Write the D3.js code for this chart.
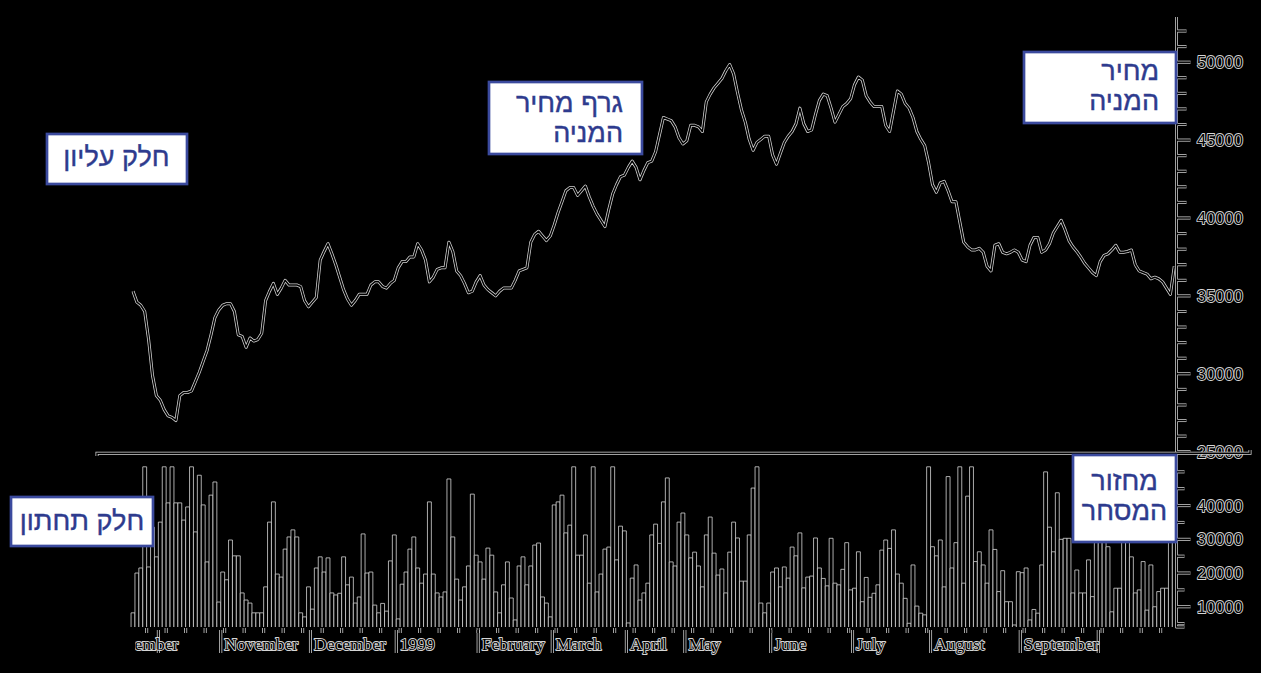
<!DOCTYPE html>
<html><head><meta charset="utf-8">
<script src="https://cdn.jsdelivr.net/npm/d3@7"></script>
<style>
html,body{margin:0;padding:0;background:#000;}
svg{display:block;}
</style></head><body>
<svg id="c" width="1261" height="673"></svg>
<script>
// ---- data (daily share price, daily trading volume) ----
const price = [35300,34600,34400,34000,32200,29900,28600,28300,27700,27300,
27200,27000,28600,28800,28800,28900,29500,30100,30800,31500,
32500,33600,34100,34400,34500,34500,34000,32500,32400,31700,
32300,32100,32200,32600,34700,35300,35800,35100,35500,36000,
35700,35700,35700,35600,34700,34300,34600,34900,37300,37850,
38350,37700,37000,36200,35400,34800,34400,34700,35100,35100,
35100,35700,35900,35900,35600,35500,35800,36000,36800,37200,
37200,37500,37500,38350,37950,37300,35900,36200,36700,36800,
36800,38450,37850,36600,36300,35800,35200,35300,35900,36300,
35700,35400,35200,35000,35300,35500,35500,35500,36000,36600,
36700,36800,38450,38950,39150,38850,38550,38850,39550,40350,
41050,41750,41950,41950,41450,41750,42050,41350,40750,40250,
39850,39450,40550,41550,42150,42650,42750,43250,43650,43250,
42450,43050,43550,43650,44250,45350,46450,46350,46250,45850,
45150,44750,44950,45950,45950,45850,45550,47450,47950,48350,
48650,48950,49450,49850,49250,48050,46950,46150,45050,44350,
44850,45050,45250,45250,44050,43450,44150,44850,45250,45550,
46050,47050,46050,45550,45650,46650,47550,47950,47850,47050,
46150,46650,47150,47350,47650,48550,49050,48850,47850,47450,
47150,47150,47150,45950,45550,46850,48150,47950,47350,47050,
46450,45550,45050,44650,43550,42150,41650,42250,42350,41750,
41050,41050,39750,38450,38150,37950,37950,38050,37800,36900,
36600,38250,38350,37800,37700,37800,37950,37800,37300,37200,
38250,38750,38750,37800,37950,38350,39050,39450,39850,39250,
38550,38150,37850,37500,37100,36800,36500,36300,37200,37600,
37700,37950,38250,37800,37800,37850,37950,37000,36600,36500,
36400,36100,36200,36100,35900,35500,35100,36900];

const volume = [8200,20000,21500,51500,21800,33600,24800,35100,51500,40800,
51500,40800,40800,35700,39600,51500,32200,49000,40200,23300,
43100,47000,11400,20300,18000,29800,25100,25100,14100,12000,
11100,8200,8200,8200,15900,35100,41100,19700,18800,27100,
30700,32800,30700,8200,7000,15900,9300,21500,24800,20300,
24500,14100,13500,14000,24800,16500,18800,11100,12900,31600,
20000,20300,10500,8200,11000,8700,23600,31300,6400,16700,
20300,27100,30700,21500,17000,19700,41100,19700,14100,12900,
14400,47900,30700,18200,12000,15900,22100,43400,25300,23300,
18200,27400,25300,14400,8200,16500,23300,12600,6100,22100,
24800,16500,22100,28300,28900,12900,11100,7000,40200,41100,
43100,31900,34200,51500,25300,25300,31300,17000,51500,14400,
19700,27100,27700,51500,23900,33900,32500,5200,18500,22400,
12000,14100,17000,31300,34500,28800,41100,48200,23300,22100,
35100,37800,31300,24500,26200,22100,15900,31300,36600,25900,
19400,21200,14100,26200,35100,30400,17600,17600,31300,45200,
51500,11100,8200,11100,20300,21500,15900,21800,18500,27700,
25100,31900,15600,18800,19100,30400,21500,18400,16200,30300,
17000,16500,21100,29000,15000,15500,26300,11500,18700,12800,
14000,16500,26800,29800,27300,32800,19700,17000,12500,5100,
22400,10200,8100,7600,51500,27800,25100,29800,15900,48600,
21500,29000,51500,17000,42800,51500,23400,26300,22400,17000,
32800,27000,14500,20700,11500,11500,4600,20400,20100,21500,
6100,9200,8100,22400,50000,33600,26300,43800,30000,30300,
30300,14100,20900,14100,14100,23900,13000,35000,31000,30000,
27800,8500,15500,15500,33000,36000,24800,14100,15000,23400,
9000,22400,10000,14500,15500,15500,38000,36000];

// month labels and the trading-day index where each month starts
const monthNames  = ["September","","November","December","1999","February","March","April","May","June","July","August","September",""];
const monthStarts = [-8,7,23,46,68,89,108,127,142,164,185,205,228,248];

const priceTicks   = d3.range(25000, 52001, 1000);
const priceLabels  = [25000,30000,35000,40000,45000,50000];
const volumeTicks  = d3.range(5000, 50001, 5000);
const volumeLabels = [10000,20000,30000,40000];

const noteTexts = [["חלק עליון"],["חלק תחתון"],["גרף מחיר","המניה"],["מחיר","המניה"],["מחזור","המסחר"]];

// ---- drawing ----
const svg = d3.select("#c");
svg.append("rect").attr("width",1261).attr("height",673).attr("fill","#000");

const x  = d3.scaleLinear().domain([0, price.length-1]).range([133, 1174.3]);
const yP = d3.scaleLinear().domain([25000, 52900]).range([451.7, 17]);
const yV = d3.scaleLinear().domain([4000, 55000]).range([627, 455]);
const bw = x(1) - x(0);
const axX = 1176.5;
const haloCol = "#d6d6d6";

// volume bars (open at bottom)
svg.append("g").selectAll("path").data(volume).join("path")
  .attr("d", (v,i) => {
    const x0 = x(i) - bw/2, x1 = x(i) + bw/2, yt = yV(v), yb = yV.range()[0];
    return `M${x0},${yb}V${yt}H${x1}V${yb}`;
  })
  .attr("fill","#000").attr("stroke",haloCol).attr("stroke-width",0.8);

// halo line layers
const halo = svg.append("g").attr("fill","none").attr("stroke",haloCol).attr("stroke-width",3).attr("stroke-linejoin","round");
const core = svg.append("g").attr("fill","none").attr("stroke","#000").attr("stroke-width",1.5).attr("stroke-linejoin","round");
function hpath(d){ halo.append("path").attr("d",d); core.append("path").attr("d",d); }

// price line
hpath(d3.line().x((p,i)=>x(i)).y(p=>yP(p))(price));

// right axis
hpath(`M${axX},${yP.range()[1]}V${yV.range()[0]}H${axX+8}`);
priceTicks.forEach(t => {
  const len = priceLabels.includes(t) ? 14 : 10;
  hpath(`M${axX},${yP(t)}H${axX+len}`);
});
volumeTicks.forEach(t => {
  const len = volumeLabels.includes(t) ? 14 : 8;
  hpath(`M${axX},${yV(t)}H${axX+len}`);
});

// x axis: week ticks and month separators
const clip = svg.append("clipPath").attr("id","xclip");
clip.append("rect").attr("x",135.3).attr("y",600).attr("width",1126).attr("height",73);
const weekIdx = d3.range(3, price.length, 5);
weekIdx.forEach(i => hpath(`M${x(i)+bw/2},628V633`));
monthStarts.forEach(s => { const xx = x(s) - bw/2; if (xx > 131) hpath(`M${xx},630V653`); });

// text with white halo
function haloText(sel){
  return sel.attr("fill","#000").attr("stroke",haloCol).attr("stroke-width",1.8)
    .attr("paint-order","stroke").attr("stroke-linejoin","round");
}
const tg = svg.append("g");
priceLabels.forEach(t => haloText(tg.append("text")).attr("x",1197).attr("y",yP(t)).attr("dy","0.36em")
  .attr("font-family","Liberation Sans, Arial, sans-serif").attr("font-size",16.5).text(t));
volumeLabels.forEach(t => haloText(tg.append("text")).attr("x",1197).attr("y",yV(t)).attr("dy","0.36em")
  .attr("font-family","Liberation Sans, Arial, sans-serif").attr("font-size",16.5).text(t));
const mg = svg.append("g").attr("clip-path","url(#xclip)");
monthNames.forEach((m,k) => {
  if (!m) return;
  haloText(mg.append("text")).attr("x", x(monthStarts[k]) + 1.6).attr("y",650)
    .attr("font-family","Liberation Serif, Times New Roman, serif").attr("font-size",17.5).text(m);
});

// separator between the two panels (drawn over the 25000 label)
const sep = svg.append("g");
sep.append("path").attr("d","M97,456V453.3H1250V450").attr("fill","none").attr("stroke",haloCol).attr("stroke-width",3);
sep.append("path").attr("d","M97,456V453.3H1250V450").attr("fill","none").attr("stroke","#000").attr("stroke-width",1.5);

// note boxes
const boxLayout = [
  {x:47,  y:134, w:140, h:50, tx:116.5, ty:[166],     anchor:"middle"},
  {x:11,  y:497, w:142, h:49, tx:82,    ty:[530],     anchor:"middle"},
  {x:489, y:82,  w:153, h:72, tx:623,   ty:[112,142], anchor:"end"},
  {x:1024,y:52,  w:152, h:71, tx:1159,  ty:[80,110],  anchor:"end"},
  {x:1073,y:455, w:103, h:87, tx:1124.5,ty:[490,520], anchor:"middle"}
];
const bg = svg.append("g");
noteTexts.forEach((lines,k) => {
  const L = boxLayout[k];
  bg.append("rect").attr("x",L.x).attr("y",L.y).attr("width",L.w).attr("height",L.h)
    .attr("fill","#fff").attr("stroke","#3b4a9e").attr("stroke-width",2.7);
  lines.forEach((t,j) => bg.append("text").attr("x",L.tx).attr("y",L.ty[j])
    .attr("text-anchor",L.anchor).attr("fill","#2e3b8e")
    .attr("stroke","#2e3b8e").attr("stroke-width",0.4)
    .attr("font-family","Liberation Sans, Arial, sans-serif").attr("font-size",27).text(t));
});
</script>
</body></html>
